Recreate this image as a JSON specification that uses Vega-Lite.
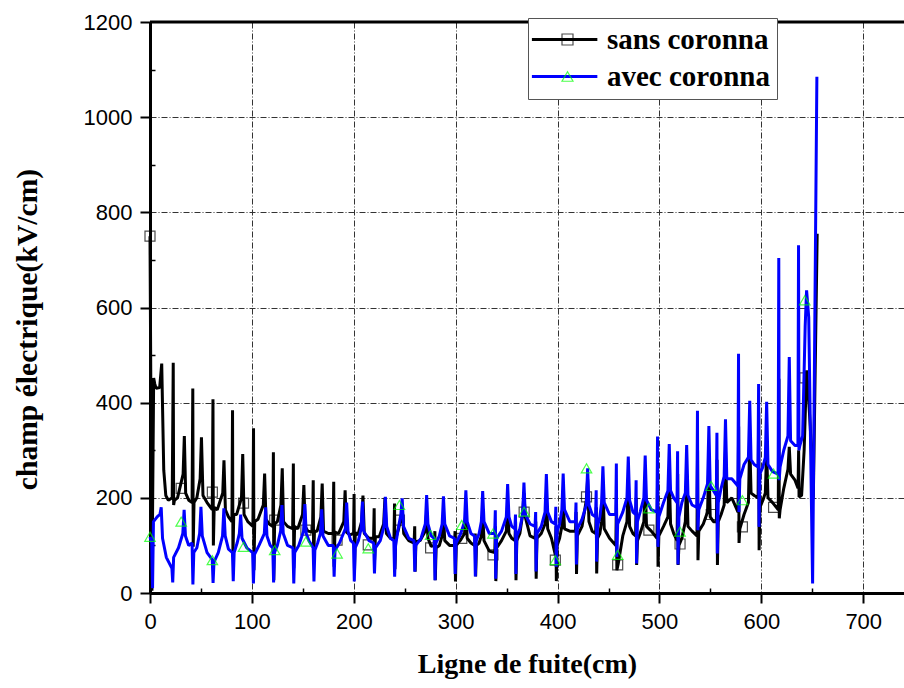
{
"$schema":"https://vega.github.io/schema/vega-lite/v6.json",
"width":754,"height":571,"autosize":"none",
"padding":{"left":150,"top":22,"right":0,"bottom":95},
"datasets":{
"sans":[{"x":0,"y":750},{"x":1.9,"y":5},{"x":3.6,"y":452},{"x":4.6,"y":440},{"x":6,"y":430},{"x":9.5,"y":432},{"x":11.5,"y":482},{"x":13.5,"y":258},{"x":15.5,"y":205},{"x":18,"y":195},{"x":21.8,"y":200},
{"x":22.8,"y":484},{"x":23.2,"y":185},{"x":24,"y":195},{"x":27,"y":200},{"x":32.5,"y":250},{"x":33.7,"y":330},{"x":35,"y":210},{"x":38,"y":195},{"x":41.3,"y":190},
{"x":42,"y":430},{"x":42.4,"y":97},{"x":43.2,"y":190},{"x":46,"y":200},{"x":49.2,"y":240},{"x":50.5,"y":327},{"x":52,"y":205},{"x":56,"y":190},{"x":61.1,"y":175},
{"x":61.8,"y":407},{"x":62.2,"y":100},{"x":63,"y":180},{"x":66,"y":175},{"x":71.4,"y":210},{"x":72.6,"y":279},{"x":74,"y":175},{"x":77,"y":160},{"x":80.4,"y":150},
{"x":81,"y":384},{"x":81.4,"y":76},{"x":82.2,"y":165},{"x":85,"y":165},{"x":89.8,"y":200},{"x":91,"y":292},{"x":92.3,"y":165},{"x":96,"y":150},{"x":101,"y":140},
{"x":101.6,"y":346},{"x":102,"y":48},{"x":102.8,"y":150},{"x":106,"y":155},{"x":111.2,"y":185},{"x":112.5,"y":251},{"x":113.8,"y":155},{"x":117,"y":145},{"x":120.5,"y":140},
{"x":121.1,"y":296},{"x":121.5,"y":27},{"x":122.3,"y":145},{"x":125,"y":150},{"x":128.5,"y":185},{"x":129.8,"y":262},{"x":131,"y":150},{"x":135,"y":140},{"x":140,"y":135},
{"x":140.7,"y":272},{"x":141.1,"y":52},{"x":141.9,"y":140},{"x":145,"y":135},{"x":149.7,"y":165},{"x":151,"y":227},{"x":152.3,"y":140},{"x":155,"y":130},{"x":159.5,"y":128},
{"x":160.2,"y":237},{"x":160.6,"y":60},{"x":161.4,"y":130},{"x":164,"y":130},{"x":167.7,"y":160},{"x":169,"y":230},{"x":170.3,"y":130},{"x":175,"y":125},{"x":179.7,"y":125},
{"x":180.3,"y":234},{"x":180.7,"y":55},{"x":181.5,"y":128},{"x":185,"y":125},{"x":190.2,"y":150},{"x":191.5,"y":216},{"x":192.8,"y":128},{"x":196,"y":122},{"x":199.8,"y":125},
{"x":200.3,"y":208},{"x":200.7,"y":45},{"x":201.5,"y":127},{"x":204,"y":122},{"x":207.7,"y":150},{"x":209,"y":205},{"x":210.3,"y":125},{"x":215,"y":115},{"x":219.4,"y":115},
{"x":220,"y":178},{"x":220.4,"y":69},{"x":221.2,"y":118},{"x":225,"y":118},{"x":229.3,"y":145},{"x":230.6,"y":200},{"x":232,"y":125},{"x":236,"y":115},{"x":239.4,"y":112},
{"x":240,"y":188},{"x":240.4,"y":50},{"x":241.2,"y":115},{"x":244,"y":135},{"x":246.2,"y":155},{"x":247.5,"y":180},{"x":249,"y":125},{"x":254,"y":110},{"x":259.2,"y":105},
{"x":259.8,"y":140},{"x":260.2,"y":45},{"x":261,"y":108},{"x":265,"y":110},{"x":270.2,"y":130},{"x":271.5,"y":170},{"x":272.8,"y":115},{"x":276,"y":98},{"x":279,"y":100},
{"x":279.6,"y":130},{"x":280,"y":27},{"x":280.8,"y":95},{"x":284,"y":100},{"x":286.7,"y":120},{"x":288,"y":165},{"x":289.3,"y":110},{"x":294,"y":100},{"x":298.8,"y":100},
{"x":299.4,"y":130},{"x":299.8,"y":24},{"x":300.6,"y":100},{"x":305,"y":112},{"x":308.7,"y":125},{"x":310,"y":175},{"x":311.3,"y":115},{"x":315,"y":105},{"x":318.6,"y":100},
{"x":319.2,"y":125},{"x":319.6,"y":35},{"x":320.4,"y":100},{"x":323,"y":105},{"x":325.2,"y":120},{"x":326.5,"y":170},{"x":327.8,"y":110},{"x":333,"y":88},{"x":338.4,"y":85},
{"x":339,"y":140},{"x":339.4,"y":25},{"x":340.2,"y":95},{"x":345,"y":110},{"x":349.7,"y":130},{"x":351,"y":185},{"x":352.3,"y":125},{"x":355,"y":115},{"x":358.2,"y":110},
{"x":358.8,"y":150},{"x":359.2,"y":27},{"x":360,"y":110},{"x":363,"y":125},{"x":365.7,"y":165},{"x":367,"y":210},{"x":368.3,"y":160},{"x":373,"y":120},{"x":378,"y":115},
{"x":378.6,"y":150},{"x":379,"y":30},{"x":379.8,"y":115},{"x":384,"y":125},{"x":387.7,"y":145},{"x":389,"y":200},{"x":390.3,"y":135},{"x":394,"y":115},{"x":397.8,"y":80},
{"x":398.4,"y":140},{"x":398.8,"y":25},{"x":399.6,"y":100},{"x":402,"y":115},{"x":404.2,"y":140},{"x":405.5,"y":200},{"x":406.8,"y":135},{"x":412,"y":130},{"x":417.6,"y":130},
{"x":418.2,"y":170},{"x":418.6,"y":40},{"x":419.4,"y":120},{"x":424,"y":140},{"x":428.2,"y":195},{"x":429.5,"y":240},{"x":430.8,"y":150},{"x":434,"y":130},{"x":437.4,"y":125},
{"x":438,"y":180},{"x":438.4,"y":41},{"x":439.2,"y":115},{"x":441.5,"y":125},{"x":443.2,"y":150},{"x":444.5,"y":230},{"x":445.8,"y":135},{"x":451,"y":115},{"x":457.2,"y":100},
{"x":457.8,"y":200},{"x":458.2,"y":48},{"x":459.4,"y":60},{"x":464,"y":120},{"x":468.1,"y":150},{"x":469.4,"y":240},{"x":470.7,"y":140},{"x":474,"y":125},{"x":476.6,"y":120},
{"x":477.2,"y":200},{"x":477.6,"y":59},{"x":478.4,"y":110},{"x":481,"y":125},{"x":484.7,"y":150},{"x":486,"y":230},{"x":487.3,"y":140},{"x":492,"y":130},{"x":497.6,"y":115},
{"x":498.2,"y":250},{"x":498.6,"y":55},{"x":499.4,"y":120},{"x":504,"y":140},{"x":508.3,"y":160},{"x":509.6,"y":250},{"x":510.9,"y":145},{"x":514,"y":125},{"x":517.3,"y":110},
{"x":517.9,"y":250},{"x":518.3,"y":59},{"x":519.1,"y":100},{"x":522,"y":115},{"x":525.4,"y":150},{"x":526.7,"y":250},{"x":528,"y":140},{"x":532,"y":130},{"x":536.8,"y":120},
{"x":537.4,"y":300},{"x":537.8,"y":69},{"x":538.6,"y":130},{"x":543,"y":145},{"x":547.2,"y":170},{"x":548.5,"y":280},{"x":549.8,"y":160},{"x":553,"y":150},{"x":555.9,"y":150},
{"x":556.5,"y":280},{"x":556.9,"y":59},{"x":557.7,"y":150},{"x":560.5,"y":165},{"x":563.5,"y":185},{"x":564.8,"y":300},{"x":566.1,"y":190},{"x":571,"y":200},{"x":577.1,"y":170},
{"x":577.7,"y":350},{"x":578.1,"y":105},{"x":578.9,"y":135},{"x":583,"y":165},{"x":587.3,"y":190},{"x":588.6,"y":320},{"x":589.9,"y":210},{"x":593,"y":205},{"x":596.8,"y":200},
{"x":597.4,"y":380},{"x":597.8,"y":90},{"x":598.6,"y":180},{"x":601.5,"y":195},{"x":603.9,"y":210},{"x":605.2,"y":300},{"x":606.5,"y":200},{"x":611,"y":190},{"x":616.6,"y":175},
{"x":617.2,"y":450},{"x":617.6,"y":157},{"x":618.4,"y":175},{"x":622,"y":220},{"x":626.1,"y":260},{"x":627.4,"y":307},{"x":628.7,"y":250},{"x":633,"y":237},{"x":636,"y":220},
{"x":636.6,"y":300},{"x":637,"y":202},{"x":639.5,"y":205},{"x":642,"y":300},{"x":644.4,"y":468},{"x":645.7,"y":433},{"x":648,"y":350},{"x":651,"y":200},{"x":654.8,"y":755}],
"avec":[{"x":0,"y":118},{"x":1.7,"y":105},{"x":2.5,"y":10},{"x":3.4,"y":150},{"x":7,"y":160},{"x":9.7,"y":165},{"x":11,"y":180},{"x":12.3,"y":115},{"x":16,"y":75},{"x":21.5,"y":52},
{"x":22.3,"y":22},{"x":23.2,"y":75},{"x":28,"y":95},{"x":32.2,"y":125},{"x":33.5,"y":175},{"x":34.8,"y":120},{"x":38,"y":100},{"x":41.3,"y":105},
{"x":42.1,"y":18},{"x":43,"y":85},{"x":46,"y":95},{"x":48.7,"y":125},{"x":50,"y":181},{"x":51.3,"y":120},{"x":56,"y":85},{"x":61.1,"y":70},
{"x":61.9,"y":21},{"x":62.8,"y":65},{"x":67,"y":85},{"x":71.2,"y":120},{"x":72.5,"y":178},{"x":73.8,"y":120},{"x":77,"y":92},{"x":80.9,"y":85},
{"x":81.7,"y":25},{"x":82.6,"y":85},{"x":85.5,"y":105},{"x":87.7,"y":125},{"x":89,"y":165},{"x":90.3,"y":115},{"x":95,"y":95},{"x":100.7,"y":85},
{"x":101.5,"y":20},{"x":102.4,"y":80},{"x":107,"y":100},{"x":112.2,"y":125},{"x":113.5,"y":180},{"x":114.8,"y":120},{"x":118,"y":100},{"x":120.5,"y":95},
{"x":121.3,"y":22},{"x":122.2,"y":85},{"x":125,"y":100},{"x":128.2,"y":130},{"x":129.5,"y":185},{"x":130.8,"y":125},{"x":135,"y":100},{"x":140.3,"y":95},
{"x":141.1,"y":20},{"x":142,"y":85},{"x":146,"y":100},{"x":150.7,"y":130},{"x":152,"y":187},{"x":153.3,"y":125},{"x":156,"y":110},{"x":160.1,"y":95},
{"x":160.9,"y":24},{"x":161.8,"y":90},{"x":164.5,"y":105},{"x":167.2,"y":125},{"x":168.5,"y":176},{"x":169.8,"y":120},{"x":175,"y":100},{"x":179.9,"y":100},
{"x":180.7,"y":34},{"x":181.6,"y":90},{"x":186,"y":105},{"x":191.7,"y":135},{"x":193,"y":190},{"x":194.3,"y":130},{"x":197,"y":110},{"x":199.7,"y":105},
{"x":200.5,"y":24},{"x":201.4,"y":95},{"x":204.5,"y":110},{"x":207.2,"y":135},{"x":208.5,"y":192},{"x":209.8,"y":130},{"x":215,"y":110},{"x":219.5,"y":105},
{"x":220.3,"y":41},{"x":221.2,"y":95},{"x":226,"y":110},{"x":229.7,"y":140},{"x":231,"y":202},{"x":232.3,"y":140},{"x":236,"y":115},{"x":239.3,"y":110},
{"x":240.1,"y":34},{"x":241,"y":100},{"x":244,"y":140},{"x":246.2,"y":165},{"x":247.5,"y":199},{"x":248.8,"y":140},{"x":254,"y":115},{"x":259.1,"y":110},
{"x":259.9,"y":45},{"x":260.8,"y":100},{"x":266,"y":115},{"x":270.2,"y":145},{"x":271.5,"y":206},{"x":272.8,"y":145},{"x":276,"y":120},{"x":278.9,"y":115},
{"x":279.7,"y":27},{"x":280.6,"y":105},{"x":284,"y":120},{"x":286.7,"y":145},{"x":288,"y":203},{"x":289.3,"y":145},{"x":294,"y":120},{"x":298.7,"y":115},
{"x":299.5,"y":40},{"x":300.4,"y":105},{"x":305,"y":125},{"x":308.7,"y":150},{"x":310,"y":216},{"x":311.3,"y":150},{"x":315,"y":125},{"x":318.5,"y":120},
{"x":319.3,"y":35},{"x":320.2,"y":110},{"x":323,"y":125},{"x":325.2,"y":150},{"x":326.5,"y":214},{"x":327.8,"y":150},{"x":333,"y":125},{"x":338.3,"y":125},
{"x":338.9,"y":174},{"x":339.3,"y":30},{"x":340.2,"y":115},{"x":345,"y":130},{"x":349.7,"y":160},{"x":351,"y":229},{"x":352.3,"y":160},{"x":355,"y":140},{"x":358.1,"y":135},
{"x":358.7,"y":165},{"x":359.1,"y":40},{"x":360,"y":120},{"x":363,"y":135},{"x":365.7,"y":165},{"x":367,"y":232},{"x":368.3,"y":165},{"x":373,"y":145},{"x":377.9,"y":140},
{"x":378.5,"y":170},{"x":378.9,"y":45},{"x":379.8,"y":125},{"x":384,"y":140},{"x":387.7,"y":170},{"x":389,"y":250},{"x":390.3,"y":170},{"x":394,"y":150},{"x":397.7,"y":145},
{"x":398.3,"y":181},{"x":398.7,"y":55},{"x":399.6,"y":130},{"x":402,"y":145},{"x":404.2,"y":175},{"x":405.5,"y":251},{"x":406.8,"y":175},{"x":412,"y":150},{"x":417.5,"y":150},
{"x":418.1,"y":190},{"x":418.5,"y":60},{"x":419.4,"y":135},{"x":424,"y":155},{"x":428.2,"y":185},{"x":429.5,"y":262},{"x":430.8,"y":185},{"x":434,"y":165},{"x":437.3,"y":160},
{"x":437.9,"y":216},{"x":438.3,"y":66},{"x":439.2,"y":140},{"x":441.5,"y":160},{"x":443.2,"y":190},{"x":444.5,"y":266},{"x":445.8,"y":190},{"x":451,"y":165},{"x":457.1,"y":165},
{"x":457.7,"y":272},{"x":458.1,"y":76},{"x":459,"y":145},{"x":464,"y":170},{"x":468.1,"y":200},{"x":469.4,"y":287},{"x":470.7,"y":195},{"x":474,"y":170},{"x":476.5,"y":165},
{"x":477.1,"y":237},{"x":477.5,"y":62},{"x":478.4,"y":150},{"x":481,"y":170},{"x":484.7,"y":200},{"x":486,"y":289},{"x":487.3,"y":195},{"x":492,"y":175},{"x":497.5,"y":170},
{"x":498.1,"y":329},{"x":498.5,"y":97},{"x":499.4,"y":160},{"x":504,"y":190},{"x":508.3,"y":215},{"x":509.6,"y":313},{"x":510.9,"y":215},{"x":514,"y":200},{"x":517.2,"y":190},
{"x":517.8,"y":298},{"x":518.2,"y":60},{"x":519.1,"y":160},{"x":522,"y":190},{"x":525.4,"y":210},{"x":526.7,"y":311},{"x":528,"y":205},{"x":532,"y":185},{"x":536.7,"y":180},
{"x":537.3,"y":383},{"x":537.7,"y":132},{"x":538.6,"y":175},{"x":543,"y":200},{"x":547.2,"y":230},{"x":548.5,"y":351},{"x":549.8,"y":225},{"x":553,"y":215},{"x":555.8,"y":205},
{"x":556.4,"y":337},{"x":556.8,"y":83},{"x":557.7,"y":190},{"x":560.5,"y":220},{"x":563.5,"y":245},{"x":564.8,"y":365},{"x":566.1,"y":240},{"x":571,"y":240},{"x":577,"y":225},
{"x":577.6,"y":503},{"x":578,"y":170},{"x":578.9,"y":240},{"x":583,"y":270},{"x":587.3,"y":285},{"x":588.6,"y":404},{"x":589.9,"y":280},{"x":593,"y":270},{"x":596.7,"y":265},
{"x":597.3,"y":439},{"x":597.7,"y":139},{"x":598.6,"y":250},{"x":601.5,"y":265},{"x":603.9,"y":285},{"x":605.2,"y":402},{"x":606.5,"y":270},{"x":611,"y":255},{"x":616.5,"y":250},
{"x":617.1,"y":704},{"x":617.5,"y":237},{"x":618.4,"y":265},{"x":622,"y":300},{"x":626.1,"y":330},{"x":627.4,"y":496},{"x":628.7,"y":320},{"x":633,"y":310},{"x":635.9,"y":310},
{"x":636.5,"y":731},{"x":636.9,"y":300},{"x":637.8,"y":310},{"x":640.5,"y":330},{"x":643,"y":560},{"x":644.4,"y":636},{"x":646.5,"y":580},{"x":650.3,"y":20},{"x":654.5,"y":1085}],
"sansM":[{"x":0,"y":750},{"x":30.6,"y":220},{"x":61.2,"y":212},{"x":91.8,"y":189},{"x":122.4,"y":153},{"x":153,"y":132},{"x":183.6,"y":111},{"x":214.2,"y":101},{"x":244.8,"y":153},{"x":275.4,"y":95},{"x":306,"y":115},{"x":336.6,"y":80},{"x":367.2,"y":170},{"x":397.8,"y":69},{"x":428.4,"y":202},{"x":459,"y":59},{"x":489.6,"y":132},{"x":520.2,"y":103},{"x":550.8,"y":165},{"x":581.4,"y":139},{"x":612,"y":180},{"x":642.6,"y":452}],
"avecM":[{"x":0,"y":118},{"x":30.6,"y":150},{"x":61.2,"y":69},{"x":91.8,"y":97},{"x":122.4,"y":90},{"x":153,"y":108},{"x":183.6,"y":83},{"x":214.2,"y":94},{"x":244.8,"y":185},{"x":275.4,"y":122},{"x":306,"y":143},{"x":336.6,"y":125},{"x":367.2,"y":171},{"x":397.8,"y":69},{"x":428.4,"y":262},{"x":459,"y":80},{"x":489.6,"y":178},{"x":520.2,"y":129},{"x":550.8,"y":225},{"x":581.4,"y":195},{"x":612,"y":251},{"x":642.6,"y":615}]
},
"config":{
"view":{"stroke":null},
"axis":{"domainColor":"#000","domainWidth":3,"tickColor":"#000","tickWidth":2,"tickSize":10,"labelFont":"Liberation Sans","labelFontSize":22,"labelColor":"#000","labelPadding":8,"labelFlush":false,"labelOverlap":false,"titleFont":"Liberation Serif","titleFontWeight":"bold","titleFontSize":28,"titleColor":"#000","grid":true,"gridColor":"#333","gridDash":[6,2,1,2],"gridWidth":1,"gridOpacity":1},
"legend":{"labelFont":"Liberation Serif","labelFontWeight":"bold","labelFontSize":29,"labelLimit":400,"padding":7,"rowPadding":7,"symbolSize":121,"labelOffset":43,"title":null}
},
"resolve":{"axis":{"x":"independent","y":"independent"}},
"layer":[
{"encoding":{
"x":{"field":"x","type":"quantitative","scale":{"domain":[0,740],"nice":false,"zero":false},"axis":{"orient":"bottom","values":[0,100,200,300,400,500,600,700],"format":"d","title":"Ligne de fuite(cm)","titlePadding":18}},
"y":{"field":"y","type":"quantitative","scale":{"domain":[0,1200],"nice":false},"axis":{"orient":"left","values":[0,200,400,600,800,1000,1200],"format":"d","title":"champ électrique(kV/cm)","titleFontSize":29.6,"titlePadding":41,"titleY":307}}
},
"layer":[
{"data":{"name":"sans"},"mark":{"type":"line","strokeWidth":3,"strokeJoin":"bevel"},
"encoding":{"color":{"datum":"sans coronna","type":"nominal","scale":{"domain":["sans coronna","avec coronna"],"range":["#000000","#0000ff"]},
"legend":{"orient":"none","legendX":378,"legendY":-4,"zindex":1,"symbolType":"M-3.2,0H8.7","symbolStrokeWidth":3,"labelColor":"#000","fillColor":"#ffffff","strokeColor":"#555555"}}}},
{"data":{"name":"sansM"},"mark":{"type":"point","filled":false,"size":100,"strokeWidth":1.2},
"encoding":{"stroke":{"datum":"sans","type":"nominal","scale":{"domain":["sans","avec"],"range":["#000000","#00ff00"]},
"legend":{"orient":"none","legendX":378,"legendY":-4,"zindex":2,"symbolOffset":18,"symbolStrokeWidth":1.2,"symbolFillColor":"transparent","labelColor":"transparent","labelExpr":"' '"}},
"shape":{"datum":"sans","type":"nominal","scale":{"domain":["sans","avec"],"range":["square","triangle-up"]},
"legend":{"orient":"none","legendX":378,"legendY":-4,"zindex":2,"symbolOffset":18,"symbolStrokeWidth":1.2,"symbolFillColor":"transparent","labelColor":"transparent","labelExpr":"' '"}}}},
{"data":{"name":"avec"},"mark":{"type":"line","strokeWidth":3,"strokeJoin":"bevel"},
"encoding":{"color":{"datum":"avec coronna","type":"nominal"}}},
{"data":{"name":"avecM"},"mark":{"type":"point","filled":false,"size":110,"strokeWidth":1.2},
"encoding":{"stroke":{"datum":"avec","type":"nominal"},"shape":{"datum":"avec","type":"nominal"}}}
]},
{"data":{"values":[{}]},"mark":{"type":"rule","strokeWidth":3,"color":"#000"},"encoding":{"y":{"datum":1200,"type":"quantitative","axis":null}}},
{"data":{"name":"sansM"},"mark":{"type":"point","opacity":0},
"encoding":{
"x":{"field":"x","type":"quantitative","axis":{"orient":"bottom","values":[50,150,250,350,450,550,650],"labels":false,"domain":false,"grid":false,"tickSize":-5,"tickWidth":1.5,"title":null}},
"y":{"field":"y","type":"quantitative","axis":{"orient":"left","values":[100,300,500,700,900,1100],"labels":false,"domain":false,"grid":false,"tickSize":-5,"tickWidth":1.5,"title":null}}}}
]
}
